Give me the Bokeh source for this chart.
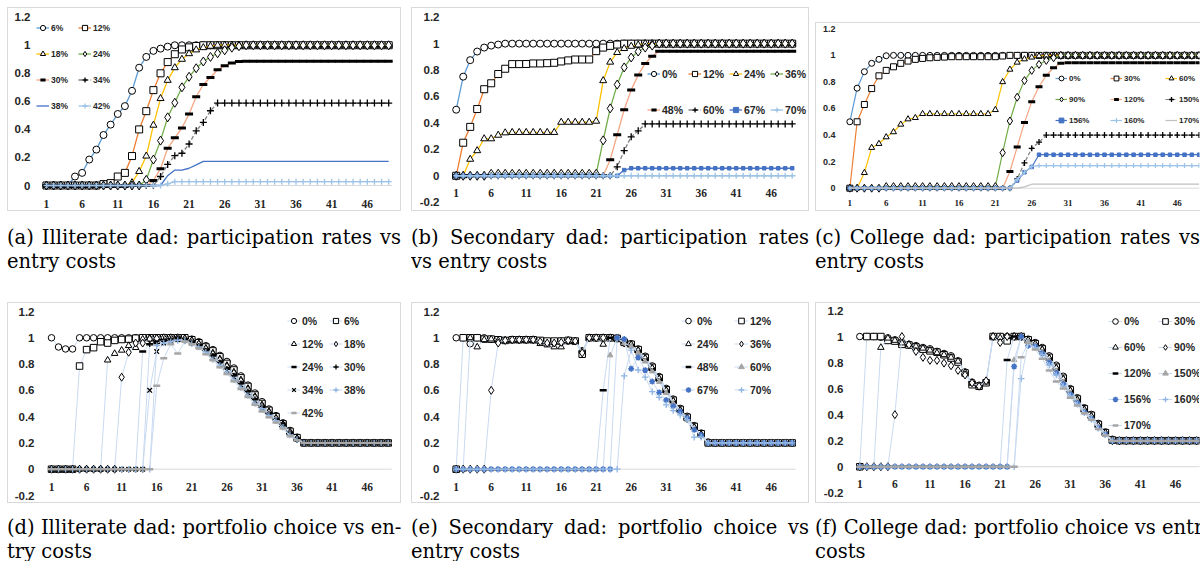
from bokeh.plotting import figure
from bokeh.models import (Range1d, FixedTicker, Legend, LegendItem, Div, Spacer,
                          LabelSet, ColumnDataSource)
from bokeh.layouts import row, column
from bokeh.embed import file_html
from bokeh.resources import INLINE

# ---------------- data ----------------
periods = list(range(1, 50))
x_ticks = [1, 6, 11, 16, 21, 26, 31, 36, 41, 46]
x_tick_labels = ["1", "6", "11", "16", "21", "26", "31", "36", "41", "46"]
y_ticks = [-0.2, 0.0, 0.2, 0.4, 0.6, 0.8, 1.0, 1.2]
y_tick_labels = ["-0.2", "0", "0.2", "0.4", "0.6", "0.8", "1", "1.2"]

captions = [
    ("(a) Illiterate dad: participation rates vs", "entry costs"),
    ("(b) Secondary dad: participation rates", "vs entry costs"),
    ("(c) College dad: participation rates vs", "entry costs"),
    ("(d) Illiterate dad: portfolio choice vs en-", "try costs"),
    ("(e) Secondary dad: portfolio choice vs", "entry costs"),
    ("(f) College dad: portfolio choice vs entry", "costs"),
]

# (a) Illiterate dad: participation rates
a_labels = ["6%", "12%", "18%", "24%", "30%", "34%", "38%", "42%"]
a_6 = [0, 0, 0, 0, 0.064, 0.09, 0.185, 0.256, 0.36, 0.434,
       0.51, 0.566, 0.675, 0.84, 0.917, 0.96, 0.976, 0.99, 1, 1,
       1, 1, 1, 1, 1, 1, 1, 1, 1, 1,
       1, 1, 1, 1, 1, 1, 1, 1, 1, 1,
       1, 1, 1, 1, 1, 1, 1, 1, 1]
a_12 = [0, 0, 0, 0, 0, 0, 0, 0, 0.01, 0.017,
        0.064, 0.09, 0.21, 0.40, 0.53, 0.68, 0.80, 0.88, 0.936, 0.97,
        0.985, 0.995, 1, 1, 1, 1, 1, 1, 1, 1,
        1, 1, 1, 1, 1, 1, 1, 1, 1, 1,
        1, 1, 1, 1, 1, 1, 1, 1, 1]
a_18 = [0, 0, 0, 0, 0, 0, 0, 0, 0, 0,
        0, 0, 0.02, 0.10, 0.21, 0.43, 0.62, 0.75, 0.84, 0.90,
        0.94, 0.967, 0.983, 0.993, 1, 1, 1, 1, 1, 1,
        1, 1, 1, 1, 1, 1, 1, 1, 1, 1,
        1, 1, 1, 1, 1, 1, 1, 1, 1]
a_24 = [0, 0, 0, 0, 0, 0, 0, 0, 0, 0,
        0, 0, 0, 0, 0.04, 0.185, 0.32, 0.486, 0.59, 0.70,
        0.775, 0.836, 0.884, 0.917, 0.943, 0.964, 0.983, 0.993, 1, 1,
        1, 1, 1, 1, 1, 1, 1, 1, 1, 1,
        1, 1, 1, 1, 1, 1, 1, 1, 1]
a_30 = [0, 0, 0, 0, 0, 0, 0, 0, 0, 0,
        0, 0, 0, 0, 0, 0.035, 0.12, 0.265, 0.34, 0.41,
        0.51, 0.633, 0.72, 0.77, 0.825, 0.853, 0.874, 0.884, 0.886, 0.886,
        0.886, 0.886, 0.886, 0.886, 0.886, 0.886, 0.886, 0.886, 0.886, 0.886,
        0.886, 0.886, 0.886, 0.886, 0.886, 0.886, 0.886, 0.886, 0.886]
a_34 = [0, 0, 0, 0, 0, 0, 0, 0, 0, 0,
        0, 0, 0, 0, 0, 0, 0.064, 0.15, 0.213, 0.23,
        0.296, 0.39, 0.45, 0.533, 0.588, 0.588, 0.588, 0.588, 0.588, 0.588,
        0.588, 0.588, 0.588, 0.588, 0.588, 0.588, 0.588, 0.588, 0.588, 0.588,
        0.588, 0.588, 0.588, 0.588, 0.588, 0.588, 0.588, 0.588, 0.588]
a_38 = [0, 0, 0, 0, 0, 0, 0, 0, 0, 0,
        0, 0, 0, 0, 0, 0, 0, 0.07, 0.11, 0.11,
        0.123, 0.147, 0.172, 0.172, 0.172, 0.172, 0.172, 0.172, 0.172, 0.172,
        0.172, 0.172, 0.172, 0.172, 0.172, 0.172, 0.172, 0.172, 0.172, 0.172,
        0.172, 0.172, 0.172, 0.172, 0.172, 0.172, 0.172, 0.172, 0.172]
a_42 = [0, 0, 0, 0, 0, 0, 0, 0, 0, 0,
        0, 0, 0, 0, 0, 0, 0, 0.012, 0.027, 0.027,
        0.027, 0.027, 0.027, 0.027, 0.027, 0.027, 0.027, 0.027, 0.027, 0.027,
        0.027, 0.027, 0.027, 0.027, 0.027, 0.027, 0.027, 0.027, 0.027, 0.027,
        0.027, 0.027, 0.027, 0.027, 0.027, 0.027, 0.027, 0.027, 0.027]

# (b) Secondary dad: participation rates
b_labels = ["0%", "12%", "24%", "36%", "48%", "60%", "67%", "70%"]
b_0 = [0.5, 0.75, 0.875, 0.94, 0.97, 0.985, 0.993, 1, 1, 1,
       1, 1, 1, 1, 1, 1, 1, 1, 1, 1,
       1, 1, 1, 1, 1, 1, 1, 1, 1, 1,
       1, 1, 1, 1, 1, 1, 1, 1, 1, 1,
       1, 1, 1, 1, 1, 1, 1, 1, 1]
b_12 = [0, 0.25, 0.37, 0.505, 0.655, 0.70, 0.77, 0.81, 0.845, 0.845,
        0.846, 0.85, 0.85, 0.852, 0.855, 0.865, 0.873, 0.88, 0.88, 0.88,
        0.943, 0.97, 0.983, 0.993, 1, 1, 1, 1, 1, 1,
        1, 1, 1, 1, 1, 1, 1, 1, 1, 1,
        1, 1, 1, 1, 1, 1, 1, 1, 1]
b_24 = [0, 0, 0.125, 0.19, 0.28, 0.28, 0.307, 0.325, 0.328, 0.328,
        0.328, 0.328, 0.328, 0.328, 0.328, 0.405, 0.405, 0.405, 0.405, 0.405,
        0.413, 0.72, 0.86, 0.933, 0.963, 0.98, 0.99, 1, 1, 1,
        1, 1, 1, 1, 1, 1, 1, 1, 1, 1,
        1, 1, 1, 1, 1, 1, 1, 1, 1]
b_36 = [0, 0, 0, 0, 0, 0.015, 0.015, 0.015, 0.015, 0.015,
        0.015, 0.015, 0.015, 0.015, 0.015, 0.015, 0.015, 0.015, 0.015, 0.015,
        0.015, 0.268, 0.51, 0.69, 0.82, 0.895, 0.94, 0.97, 0.985, 1,
        1, 1, 1, 1, 1, 1, 1, 1, 1, 1,
        1, 1, 1, 1, 1, 1, 1, 1, 1]
b_48 = [0, 0, 0, 0, 0, 0, 0, 0, 0, 0,
        0, 0, 0, 0, 0, 0, 0, 0, 0, 0,
        0, 0, 0.122, 0.31, 0.50, 0.65, 0.763, 0.85, 0.905, 0.943,
        0.943, 0.943, 0.943, 0.943, 0.943, 0.943, 0.943, 0.943, 0.943, 0.943,
        0.943, 0.943, 0.943, 0.943, 0.943, 0.943, 0.943, 0.943, 0.943]
b_60 = [0, 0, 0, 0, 0, 0, 0, 0, 0, 0,
        0, 0, 0, 0, 0, 0, 0, 0, 0, 0,
        0, 0, 0, 0.068, 0.19, 0.295, 0.34, 0.392, 0.392, 0.392,
        0.392, 0.392, 0.392, 0.392, 0.392, 0.392, 0.392, 0.392, 0.392, 0.392,
        0.392, 0.392, 0.392, 0.392, 0.392, 0.392, 0.392, 0.392, 0.392]
b_67 = [0, 0, 0, 0, 0, 0, 0, 0, 0, 0,
        0, 0, 0, 0, 0, 0, 0, 0, 0, 0,
        0, 0, 0, 0, 0.043, 0.057, 0.057, 0.057, 0.057, 0.057,
        0.057, 0.057, 0.057, 0.057, 0.057, 0.057, 0.057, 0.057, 0.057, 0.057,
        0.057, 0.057, 0.057, 0.057, 0.057, 0.057, 0.057, 0.057, 0.057]
b_70 = [0, 0, 0, 0, 0, 0, 0, 0, 0, 0,
        0, 0, 0, 0, 0, 0, 0, 0, 0, 0,
        0, 0, 0, 0, 0, 0, 0, 0, 0, 0,
        0, 0, 0, 0, 0, 0, 0, 0, 0, 0,
        0, 0, 0, 0, 0, 0, 0, 0, 0]

# (c) College dad: participation rates
c_labels = ["0%", "30%", "60%", "90%", "120%", "150%", "156%", "160%", "170%"]
c_0 = [0.5, 0.753, 0.877, 0.94, 0.97, 0.997, 1, 1, 1, 1,
       1, 1, 1, 1, 1, 1, 1, 1, 1, 1,
       1, 1, 1, 1, 1, 1, 1, 1, 1, 1,
       1, 1, 1, 1, 1, 1, 1, 1, 1, 1,
       1, 1, 1, 1, 1, 1, 1, 1, 1]
c_30 = [0, 0.50, 0.63, 0.75, 0.846, 0.887, 0.914, 0.94, 0.957, 0.97,
        0.977, 0.982, 0.985, 0.987, 0.99, 0.99, 0.99, 0.99, 0.99, 0.99,
        0.99, 0.995, 1, 1, 1, 1, 1, 1, 1, 1,
        1, 1, 1, 1, 1, 1, 1, 1, 1, 1,
        1, 1, 1, 1, 1, 1, 1, 1, 1]
c_60 = [0, 0, 0.116, 0.305, 0.335, 0.385, 0.423, 0.48, 0.52, 0.53,
        0.56, 0.56, 0.56, 0.56, 0.56, 0.56, 0.56, 0.56, 0.56, 0.56,
        0.59, 0.80, 0.894, 0.947, 0.972, 0.985, 0.995, 1, 1, 1,
        1, 1, 1, 1, 1, 1, 1, 1, 1, 1,
        1, 1, 1, 1, 1, 1, 1, 1, 1]
c_90 = [0, 0, 0, 0, 0, 0.012, 0.012, 0.012, 0.012, 0.012,
        0.012, 0.012, 0.012, 0.012, 0.012, 0.012, 0.012, 0.012, 0.012, 0.012,
        0.012, 0.267, 0.506, 0.685, 0.81, 0.887, 0.932, 0.962, 0.982, 1,
        1, 1, 1, 1, 1, 1, 1, 1, 1, 1,
        1, 1, 1, 1, 1, 1, 1, 1, 1]
c_120 = [0, 0, 0, 0, 0, 0, 0, 0, 0, 0,
         0, 0, 0, 0, 0, 0, 0, 0, 0, 0,
         0, 0, 0.126, 0.31, 0.494, 0.65, 0.763, 0.85, 0.907, 0.94,
         0.945, 0.945, 0.945, 0.945, 0.945, 0.945, 0.945, 0.945, 0.945, 0.945,
         0.945, 0.945, 0.945, 0.945, 0.945, 0.945, 0.945, 0.945, 0.945]
c_150 = [0, 0, 0, 0, 0, 0, 0, 0, 0, 0,
         0, 0, 0, 0, 0, 0, 0, 0, 0, 0,
         0, 0, 0, 0.07, 0.19, 0.30, 0.347, 0.40, 0.40, 0.40,
         0.40, 0.40, 0.40, 0.40, 0.40, 0.40, 0.40, 0.40, 0.40, 0.40,
         0.40, 0.40, 0.40, 0.40, 0.40, 0.40, 0.40, 0.40, 0.40]
c_156 = [0, 0, 0, 0, 0, 0, 0, 0, 0, 0,
         0, 0, 0, 0, 0, 0, 0, 0, 0, 0,
         0, 0, 0, 0.058, 0.12, 0.16, 0.252, 0.252, 0.252, 0.252,
         0.252, 0.252, 0.252, 0.252, 0.252, 0.252, 0.252, 0.252, 0.252, 0.252,
         0.252, 0.252, 0.252, 0.252, 0.252, 0.252, 0.252, 0.252, 0.252]
c_160 = [0, 0, 0, 0, 0, 0, 0, 0, 0, 0,
         0, 0, 0, 0, 0, 0, 0, 0, 0, 0,
         0, 0, 0, 0.065, 0.12, 0.164, 0.17, 0.17, 0.17, 0.17,
         0.17, 0.17, 0.17, 0.17, 0.17, 0.17, 0.17, 0.17, 0.17, 0.17,
         0.17, 0.17, 0.17, 0.17, 0.17, 0.17, 0.17, 0.17, 0.17]
c_170 = [0, 0, 0, 0, 0, 0, 0, 0, 0, 0,
         0, 0, 0, 0, 0, 0, 0, 0, 0, 0,
         0, 0, 0, 0, 0.01, 0.03, 0.03, 0.03, 0.03, 0.03,
         0.03, 0.03, 0.03, 0.03, 0.03, 0.03, 0.03, 0.03, 0.03, 0.03,
         0.03, 0.03, 0.03, 0.03, 0.03, 0.03, 0.03, 0.03, 0.03]

# (d) Illiterate dad: portfolio choice
d_labels = ["0%", "6%", "12%", "18%", "24%", "30%", "34%", "38%", "42%"]
d_0 = [1, 0.93, 0.915, 0.915, 1, 1, 1, 1, 1, 1,
       1, 1, 1, 1, 1, 1, 1, 1, 1, 1,
       0.99, 0.97, 0.94, 0.91, 0.866, 0.82, 0.77, 0.71, 0.64, 0.58,
       0.514, 0.458, 0.408, 0.353, 0.295, 0.244, 0.2, 0.2, 0.2, 0.2,
       0.2, 0.2, 0.2, 0.2, 0.2, 0.2, 0.2, 0.2, 0.2]
d_6 = [0, 0, 0, 0, 0.785, 0.91, 0.925, 0.97, 0.96, 0.98,
       0.987, 0.99, 0.997, 1, 1, 1, 1, 1, 1, 1,
       0.985, 0.962, 0.93, 0.9, 0.855, 0.805, 0.755, 0.695, 0.63, 0.565,
       0.5, 0.448, 0.4, 0.345, 0.288, 0.24, 0.2, 0.2, 0.2, 0.2,
       0.2, 0.2, 0.2, 0.2, 0.2, 0.2, 0.2, 0.2, 0.2]
d_12 = [0, 0, 0, 0, 0, 0, 0, 0, 0.83, 0.88,
        0.905, 0.94, 0.925, 0.99, 1, 1, 1, 1, 1, 0.995,
        0.98, 0.955, 0.92, 0.885, 0.84, 0.79, 0.74, 0.68, 0.615, 0.555,
        0.49, 0.44, 0.39, 0.34, 0.283, 0.235, 0.2, 0.2, 0.2, 0.2,
        0.2, 0.2, 0.2, 0.2, 0.2, 0.2, 0.2, 0.2, 0.2]
d_18 = [0, 0, 0, 0, 0, 0, 0, 0, 0, 0,
        0.70, 0.89, 0.96, 0.96, 0.99, 0.995, 1, 1, 1, 0.99,
        0.975, 0.95, 0.915, 0.875, 0.83, 0.78, 0.73, 0.67, 0.605, 0.545,
        0.48, 0.432, 0.385, 0.335, 0.28, 0.232, 0.2, 0.2, 0.2, 0.2,
        0.2, 0.2, 0.2, 0.2, 0.2, 0.2, 0.2, 0.2, 0.2]
d_24 = [0, 0, 0, 0, 0, 0, 0, 0, 0, 0,
        0, 0, 0, 0.895, 0.95, 0.97, 0.98, 0.99, 1, 0.985,
        0.97, 0.945, 0.91, 0.87, 0.82, 0.77, 0.72, 0.66, 0.595, 0.535,
        0.475, 0.425, 0.38, 0.33, 0.276, 0.23, 0.2, 0.2, 0.2, 0.2,
        0.2, 0.2, 0.2, 0.2, 0.2, 0.2, 0.2, 0.2, 0.2]
d_30 = [0, 0, 0, 0, 0, 0, 0, 0, 0, 0,
        0, 0, 0, 0, 0.955, 0.955, 0.987, 0.99, 0.995, 0.98,
        0.965, 0.935, 0.9, 0.86, 0.81, 0.76, 0.71, 0.65, 0.59, 0.53,
        0.47, 0.42, 0.375, 0.345, 0.273, 0.228, 0.2, 0.2, 0.2, 0.2,
        0.2, 0.2, 0.2, 0.2, 0.2, 0.2, 0.2, 0.2, 0.2]
d_34 = [0, 0, 0, 0, 0, 0, 0, 0, 0, 0,
        0, 0, 0, 0, 0.60, 0.895, 0.96, 0.98, 0.985, 0.98,
        0.96, 0.93, 0.895, 0.855, 0.80, 0.75, 0.70, 0.64, 0.58, 0.52,
        0.465, 0.415, 0.37, 0.34, 0.27, 0.226, 0.2, 0.2, 0.2, 0.2,
        0.2, 0.2, 0.2, 0.2, 0.2, 0.2, 0.2, 0.2, 0.2]
d_38 = [0, 0, 0, 0, 0, 0, 0, 0, 0, 0,
        0, 0, 0, 0, 0, 0.94, 0.96, 0.97, 0.98, 0.975,
        0.955, 0.93, 0.89, 0.835, 0.79, 0.74, 0.68, 0.62, 0.56, 0.5,
        0.46, 0.41, 0.37, 0.32, 0.26, 0.225, 0.2, 0.2, 0.2, 0.2,
        0.2, 0.2, 0.2, 0.2, 0.2, 0.2, 0.2, 0.2, 0.2]
d_42 = [0, 0, 0, 0, 0, 0, 0, 0, 0, 0,
        0, 0, 0, 0, 0, 0.635, 0.845, 0.95, 0.88, 0.97,
        0.95, 0.92, 0.875, 0.83, 0.775, 0.725, 0.67, 0.61, 0.55, 0.49,
        0.44, 0.395, 0.355, 0.31, 0.25, 0.22, 0.2, 0.2, 0.2, 0.2,
        0.2, 0.2, 0.2, 0.2, 0.2, 0.2, 0.2, 0.2, 0.2]

# (e) Secondary dad: portfolio choice
e_labels = ["0%", "12%", "24%", "36%", "48%", "60%", "67%", "70%"]
e_0 = [1, 1, 0.955, 1, 1, 0.99, 0.985, 0.98, 0.985, 0.985,
       0.985, 0.985, 0.975, 0.97, 0.965, 0.975, 0.975, 0.975, 0.90, 1,
       1, 1, 1, 1, 0.967, 0.955, 0.915, 0.86, 0.786, 0.705,
       0.615, 0.534, 0.463, 0.403, 0.332, 0.275, 0.207, 0.2, 0.2, 0.2,
       0.2, 0.2, 0.2, 0.2, 0.2, 0.2, 0.2, 0.2, 0.2]
e_12 = [0, 1, 1, 1, 0.99, 0.99, 0.985, 0.98, 0.985, 0.985,
        0.985, 0.985, 0.98, 0.975, 0.975, 0.975, 0.98, 0.975, 0.875, 1,
        1, 1, 1, 0.995, 0.965, 0.95, 0.91, 0.85, 0.775, 0.695,
        0.605, 0.525, 0.455, 0.395, 0.325, 0.27, 0.2, 0.2, 0.2, 0.2,
        0.2, 0.2, 0.2, 0.2, 0.2, 0.2, 0.2, 0.2, 0.2]
e_24 = [0, 0, 1, 0.93, 0.985, 0.99, 0.98, 0.98, 0.98, 0.98,
        0.98, 0.98, 0.955, 0.945, 0.93, 0.93, 0.975, 0.97, 0.90, 1,
        1, 0.95, 1, 0.99, 0.96, 0.945, 0.905, 0.845, 0.77, 0.69,
        0.6, 0.52, 0.45, 0.39, 0.32, 0.265, 0.2, 0.2, 0.2, 0.2,
        0.2, 0.2, 0.2, 0.2, 0.2, 0.2, 0.2, 0.2, 0.2]
e_36 = [0, 0, 0, 0, 0, 0.60, 0.96, 0.98, 0.985, 0.985,
        0.985, 0.985, 0.97, 0.96, 0.96, 0.965, 0.98, 0.975, 0.885, 1,
        1, 1, 1, 0.995, 0.96, 0.945, 0.9, 0.84, 0.765, 0.685,
        0.595, 0.515, 0.445, 0.385, 0.315, 0.26, 0.2, 0.2, 0.2, 0.2,
        0.2, 0.2, 0.2, 0.2, 0.2, 0.2, 0.2, 0.2, 0.2]
e_48 = [0, 0, 0, 0, 0, 0, 0, 0, 0, 0,
        0, 0, 0, 0, 0, 0, 0, 0, 0, 0,
        0, 0.60, 1, 0.99, 0.96, 0.94, 0.895, 0.835, 0.76, 0.68,
        0.59, 0.51, 0.44, 0.38, 0.31, 0.26, 0.2, 0.2, 0.2, 0.2,
        0.2, 0.2, 0.2, 0.2, 0.2, 0.2, 0.2, 0.2, 0.2]
e_60 = [0, 0, 0, 0, 0, 0, 0, 0, 0, 0,
        0, 0, 0, 0, 0, 0, 0, 0, 0, 0,
        0, 0, 0.867, 1, 0.96, 0.935, 0.885, 0.82, 0.745, 0.665,
        0.58, 0.5, 0.435, 0.375, 0.3, 0.255, 0.2, 0.2, 0.2, 0.2,
        0.2, 0.2, 0.2, 0.2, 0.2, 0.2, 0.2, 0.2, 0.2]
e_67 = [0, 0, 0, 0, 0, 0, 0, 0, 0, 0,
        0, 0, 0, 0, 0, 0, 0, 0, 0, 0,
        0, 0, 0, 1, 0.99, 0.765, 0.85, 0.753, 0.667, 0.584,
        0.526, 0.48, 0.44, 0.39, 0.30, 0.26, 0.2, 0.2, 0.2, 0.2,
        0.2, 0.2, 0.2, 0.2, 0.2, 0.2, 0.2, 0.2, 0.2]
e_70 = [0, 0, 0, 0, 0, 0, 0, 0, 0, 0,
        0, 0, 0, 0, 0, 0, 0, 0, 0, 0,
        0, 0, 0, 0, 0.71, 0.906, 0.755, 0.70, 0.59, 0.547,
        0.49, 0.446, 0.413, 0.378, 0.244, 0.244, 0.2, 0.2, 0.2, 0.2,
        0.2, 0.2, 0.2, 0.2, 0.2, 0.2, 0.2, 0.2, 0.2]

# (f) College dad: portfolio choice
f_labels = ["0%", "30%", "60%", "90%", "120%", "150%", "156%", "160%", "170%"]
f_0 = [1, 1, 1, 0.995, 0.99, 0.975, 0.96, 0.94, 0.93, 0.916,
       0.906, 0.886, 0.87, 0.852, 0.814, 0.728, 0.65, 0.626, 0.65, 1,
       1, 1, 1, 1, 0.98, 0.954, 0.916, 0.852, 0.78, 0.695,
       0.60, 0.53, 0.453, 0.402, 0.333, 0.267, 0.211, 0.2, 0.2, 0.2,
       0.2, 0.2, 0.2, 0.2, 0.2, 0.2, 0.2, 0.2, 0.2]
f_30 = [0, 1, 1, 1, 0.97, 0.965, 0.94, 0.935, 0.92, 0.903,
        0.89, 0.88, 0.86, 0.835, 0.804, 0.72, 0.63, 0.618, 0.645, 1,
        1, 0.967, 1, 1, 0.975, 0.945, 0.905, 0.84, 0.765, 0.68,
        0.59, 0.52, 0.445, 0.395, 0.325, 0.262, 0.205, 0.2, 0.2, 0.2,
        0.2, 0.2, 0.2, 0.2, 0.2, 0.2, 0.2, 0.2, 0.2]
f_60 = [0, 0, 0, 0.916, 0.987, 0.97, 0.95, 0.94, 0.925, 0.91,
        0.895, 0.875, 0.86, 0.84, 0.81, 0.725, 0.64, 0.62, 0.65, 1,
        0.99, 1, 1, 1, 0.97, 0.94, 0.9, 0.835, 0.76, 0.675,
        0.585, 0.515, 0.44, 0.39, 0.32, 0.26, 0.2, 0.2, 0.2, 0.2,
        0.2, 0.2, 0.2, 0.2, 0.2, 0.2, 0.2, 0.2, 0.2]
f_90 = [0, 0, 0, 0, 0, 0.4, 1, 0.936, 0.886, 0.84,
        0.817, 0.817, 0.796, 0.776, 0.74, 0.705, 0.644, 0.618, 0.66, 1,
        0.954, 1, 1, 1, 0.97, 0.94, 0.895, 0.83, 0.755, 0.67,
        0.58, 0.51, 0.435, 0.385, 0.315, 0.258, 0.2, 0.2, 0.2, 0.2,
        0.2, 0.2, 0.2, 0.2, 0.2, 0.2, 0.2, 0.2, 0.2]
f_120 = [0, 0, 0, 0, 0, 0, 0, 0, 0, 0,
         0, 0, 0, 0, 0, 0, 0, 0, 0, 0,
         0, 0.82, 1, 1, 0.965, 0.935, 0.89, 0.825, 0.745, 0.66,
         0.575, 0.505, 0.43, 0.38, 0.31, 0.255, 0.2, 0.2, 0.2, 0.2,
         0.2, 0.2, 0.2, 0.2, 0.2, 0.2, 0.2, 0.2, 0.2]
f_150 = [0, 0, 0, 0, 0, 0, 0, 0, 0, 0,
         0, 0, 0, 0, 0, 0, 0, 0, 0, 0,
         0, 0, 0.82, 1, 0.96, 0.93, 0.88, 0.815, 0.735, 0.65,
         0.565, 0.5, 0.425, 0.375, 0.305, 0.25, 0.2, 0.2, 0.2, 0.2,
         0.2, 0.2, 0.2, 0.2, 0.2, 0.2, 0.2, 0.2, 0.2]
f_156 = [0, 0, 0, 0, 0, 0, 0, 0, 0, 0,
         0, 0, 0, 0, 0, 0, 0, 0, 0, 0,
         0, 0, 0.77, 1, 0.93, 0.925, 0.87, 0.8, 0.72, 0.635,
         0.555, 0.49, 0.42, 0.37, 0.3, 0.248, 0.2, 0.2, 0.2, 0.2,
         0.2, 0.2, 0.2, 0.2, 0.2, 0.2, 0.2, 0.2, 0.2]
f_160 = [0, 0, 0, 0, 0, 0, 0, 0, 0, 0,
         0, 0, 0, 0, 0, 0, 0, 0, 0, 0,
         0, 0, 0, 0.677, 0.95, 0.915, 0.86, 0.78, 0.705, 0.62,
         0.545, 0.48, 0.415, 0.365, 0.295, 0.245, 0.2, 0.2, 0.2, 0.2,
         0.2, 0.2, 0.2, 0.2, 0.2, 0.2, 0.2, 0.2, 0.2]
f_170 = [0, 0, 0, 0, 0, 0, 0, 0, 0, 0,
         0, 0, 0, 0, 0, 0, 0, 0, 0, 0,
         0, 0, 0, 0.84, 0.95, 0.9, 0.83, 0.74, 0.655, 0.6,
         0.53, 0.47, 0.41, 0.36, 0.29, 0.24, 0.2, 0.2, 0.2, 0.2,
         0.2, 0.2, 0.2, 0.2, 0.2, 0.2, 0.2, 0.2, 0.2]

# ---------------- styles ----------------
BLUE, ORANGE, YELLOW, GREEN = "#5B9BD5", "#ED7D31", "#FFC000", "#70AD47"
SALMON, GREY, DBLUE, LBLUE, LGREY = "#F4A582", "#808080", "#4472C4", "#9DC3E6", "#BFBFBF"
PALE = "#C9DAF0"
TXT = "#262626"
FONT = "Liberation Sans"

# line colour, dash, marker, marker line, marker fill, size, marker lw
part_styles = [
    (BLUE, "solid", "circle", "black", "white", 7, 1),
    (ORANGE, "solid", "square", "black", "white", 7, 1),
    (YELLOW, "solid", "triangle", "black", "white", 7, 1),
    (GREEN, "solid", "diamond", "black", "white", 9, 1),
    (SALMON, "solid", "dash", "black", None, 8, 3),
    (GREY, "4 2", "cross", "black", None, 7, 1.3),
]
a_styles = part_styles + [(DBLUE, "solid", None, None, None, 0, 0),
                          (LBLUE, "solid", "cross", LBLUE, None, 6, 1.3)]
b_styles = part_styles + [(DBLUE, "solid", "square", DBLUE, DBLUE, 3.5, 1),
                          (LBLUE, "solid", "cross", LBLUE, None, 6, 1.3)]
c_styles = [(s[0], s[1], s[2], s[3], s[4], s[5] - 1, s[6]) for s in part_styles] + [
    (DBLUE, "solid", "square", DBLUE, DBLUE, 3.5, 1),
    (LBLUE, "solid", "cross", LBLUE, None, 5, 1.2),
    (LGREY, "solid", None, None, None, 0, 0)]

port_base = [
    (PALE, "solid", "circle", "black", "white", 6.5, 1),
    (PALE, "solid", "square", "black", "white", 6.5, 1),
    (PALE, "solid", "triangle", "black", "white", 6.5, 1),
    (PALE, "solid", "diamond", "black", "white", 8, 1),
    (PALE, "solid", "dash", "black", None, 7, 2.5),
]
d_styles = port_base + [(PALE, "solid", "cross", "black", None, 6.5, 1.3),
                        (PALE, "solid", "x", "black", None, 6.5, 1.3),
                        (PALE, "solid", "cross", "#8DB4E2", None, 6.5, 1.3),
                        (PALE, "solid", "dash", "#A6A6A6", None, 7, 2.5)]
e_styles = port_base + [(PALE, "solid", "triangle", "#A5A5A5", "#A5A5A5", 5.5, 1),
                        (PALE, "solid", "asterisk", DBLUE, None, 6, 1.5),
                        (PALE, "solid", "cross", "#8DB4E2", None, 6.5, 1.3)]
f_styles = e_styles + [(PALE, "solid", "dash", "#A6A6A6", None, 7, 2.5)]

# the category axis runs half a period beyond the first and last period
AXIS_X = [periods[0] - 0.5, periods[-1] + 0.5]


def make_panel(g, labels, series, styles, lw, lg):
    # frame fills the canvas except the y-label strip; ranges keep the chart scale
    L, T = g["L"], 1
    R, B = g["w"] - 1, g["h"] - 1
    s, k = g["s"], g["k"]
    x_start = AXIS_X[0] - (g["ax0"] - L) / s
    x_end = AXIS_X[0] + (R - g["ax0"]) / s
    y_end = 1.2 + (g["py12"] - T) / k
    y_start = 1.2 - (B - g["py12"]) / k
    p = figure(frame_width=R - L, frame_height=B - T,
               x_range=Range1d(x_start, x_end), y_range=Range1d(y_start, y_end),
               x_axis_location=None, output_backend="svg", toolbar_location=None,
               min_border_left=L, min_border_right=g["w"] - R,
               min_border_top=T, min_border_bottom=g["h"] - B)
    p.background_fill_alpha = 0
    p.border_fill_alpha = 0
    p.outline_line_color = None
    p.xgrid.visible = False
    p.ygrid.visible = False
    p.styles = {"box-shadow": g["frame"]}

    # horizontal axis line at zero, with category labels just beneath it
    p.line(AXIS_X, [0, 0], line_color="#D9D9D9", line_width=1)
    src = ColumnDataSource(dict(x=x_ticks, y=[0.0] * len(x_ticks), t=x_tick_labels))
    p.add_layout(LabelSet(x="x", y="y", text="t", source=src, y_offset=-g["xs"],
                          text_align="center", text_baseline="middle", text_font=FONT,
                          text_font_style="bold", text_font_size=g["fs"], text_color=TXT))

    ya = p.yaxis[0]
    yt = [t for t in y_ticks if y_start - 1e-9 <= t <= y_end + 1e-9]
    ya.ticker = FixedTicker(ticks=yt)
    ya.major_label_overrides = {t: l for t, l in zip(y_ticks, y_tick_labels)}
    ya.axis_line_color = None
    ya.major_tick_line_color = None
    ya.minor_tick_line_color = None
    ya.major_tick_out = 0
    ya.major_tick_in = 0
    ya.major_label_standoff = 3
    ya.major_label_text_font = FONT
    ya.major_label_text_font_style = "bold"
    ya.major_label_text_font_size = g["fs"]
    ya.major_label_text_color = TXT

    items = []
    for label, vals, st in zip(labels, series, styles):
        lc, dash, mk, mlc, mfc, ms, mlw = st
        rs = [p.line(periods, vals, line_color=lc, line_width=lw, line_dash=dash)]
        if mk:
            rs.append(p.scatter(periods, vals, marker=mk, size=ms, line_color=mlc,
                                line_width=mlw, fill_color=mfc if mfc else mlc,
                                fill_alpha=1 if mfc else 0))
        items.append(LegendItem(label=label, renderers=rs))

    # one single-column legend per legend column, placed from its top-left corner
    nc = lg["ncols"]
    for j in range(nc):
        col_items = items[j::nc]
        n = len(col_items)
        hgt = n * lg["ih"] + (n - 1) * lg["sp"]
        loc = (lg["left"] + j * lg["pitch"] - L, B - (lg["top"] + hgt))
        leg = Legend(items=col_items, location=loc, orientation="vertical",
                     glyph_width=lg["gw"], glyph_height=lg["ih"], label_height=lg["ih"],
                     label_width=10, label_standoff=2, spacing=lg["sp"], padding=0,
                     margin=0, border_line_color=None, background_fill_alpha=0,
                     label_text_font=FONT, label_text_font_style="bold",
                     label_text_font_size=lg["fs"], label_text_color=TXT)
        p.add_layout(leg)
    return p


FULL = "inset 0 0 0 1px #D9D9D9"
OPEN = "inset 1px 0 0 #D9D9D9, inset 0 1px 0 #D9D9D9, inset 0 -1px 0 #D9D9D9"

# w/h canvas; L frame left; ax0 pixel of the axis start; s px per period;
# py12 pixel of 1.2; k px per unit; xs label drop below zero line
ga = dict(w=394, h=204, L=26, ax0=35.4, s=7.13, py12=9.7, k=140.25,
          fs="11.5px", xs=18, frame=FULL)
gb = dict(w=398, h=204, L=31, ax0=41.2, s=7.0, py12=9.7, k=132.14,
          fs="11.5px", xs=17, frame=FULL)
gc = dict(w=385, h=189, L=23, ax0=30.7, s=7.276, py12=6.3, k=132.83,
          fs="9px", xs=15, frame=OPEN)
gd = dict(w=394, h=201, L=30, ax0=40.5, s=7.015, py12=9.0, k=131.43,
          fs="11.5px", xs=18, frame=FULL)
ge = dict(w=398, h=201, L=31, ax0=41.2, s=7.0, py12=9.0, k=131.43,
          fs="11.5px", xs=18, frame=FULL)
gf = dict(w=385, h=201, L=31, ax0=40.8, s=7.016, py12=8.0, k=130.2,
          fs="11.5px", xs=17, frame=OPEN)

la = dict(ncols=2, ih=25, sp=1, gw=13, pitch=42, fs="8.5px", top=8, left=29)
lb = dict(ncols=4, ih=35, sp=1, gw=13, pitch=41, fs="10.5px", top=49, left=236)
lc_ = dict(ncols=3, ih=20, sp=1, gw=12, pitch=55, fs="8px", top=46, left=240)
ld = dict(ncols=2, ih=23, sp=0, gw=13, pitch=42, fs="10.5px", top=7, left=280)
le = dict(ncols=2, ih=23, sp=0, gw=14, pitch=53, fs="10.5px", top=7, left=270)
lf = dict(ncols=2, ih=26, sp=0, gw=14, pitch=50, fs="10.5px", top=6, left=293)

pa = make_panel(ga, a_labels, [a_6, a_12, a_18, a_24, a_30, a_34, a_38, a_42], a_styles, 1.3, la)
pb = make_panel(gb, b_labels, [b_0, b_12, b_24, b_36, b_48, b_60, b_67, b_70], b_styles, 1.3, lb)
pc = make_panel(gc, c_labels, [c_0, c_30, c_60, c_90, c_120, c_150, c_156, c_160, c_170],
                c_styles, 1.2, lc_)
pd = make_panel(gd, d_labels, [d_0, d_6, d_12, d_18, d_24, d_30, d_34, d_38, d_42],
                d_styles, 1.0, ld)
pe = make_panel(ge, e_labels, [e_0, e_12, e_24, e_36, e_48, e_60, e_67, e_70], e_styles, 1.0, le)
pf = make_panel(gf, f_labels, [f_0, f_30, f_60, f_90, f_120, f_150, f_156, f_160, f_170],
                f_styles, 1.0, lf)


def caption(lines, width, height, pad):
    l1, l2 = lines
    html = ('<div style="width:%dpx;height:%dpx;overflow:hidden;box-sizing:border-box;'
            'padding-top:%dpx;font-family:\'DejaVu Serif\';font-size:19.5px;line-height:24px;'
            'color:#000;">'
            '<div style="text-align:justify;text-align-last:justify;white-space:nowrap;">%s</div>'
            '<div style="white-space:nowrap;">%s</div></div>') % (width, height, pad, l1, l2)
    return Div(text=html, width=width, height=height, margin=0)


def gap(w, h):
    return Spacer(width=w, height=h, margin=0)


row1 = row(gap(7, 204), pa, gap(10, 204), pb, gap(6, 204),
           column(gap(385, 15), pc, spacing=0), spacing=0)
cap1 = row(gap(7, 91), caption(captions[0], 394, 91, 15), gap(10, 91),
           caption(captions[1], 398, 91, 15), gap(6, 91),
           caption(captions[2], 385, 91, 15), spacing=0)
row2 = row(gap(7, 201), pd, gap(10, 201), pe, gap(6, 201), pf, spacing=0)
cap2 = row(gap(7, 58), caption(captions[3], 394, 58, 13), gap(10, 58),
           caption(captions[4], 398, 58, 13), gap(6, 58),
           caption(captions[5], 385, 58, 13), spacing=0)

page = column(gap(1200, 7), row1, cap1, row2, cap2, spacing=0)

open("out.html", "w").write(file_html(page, INLINE))
